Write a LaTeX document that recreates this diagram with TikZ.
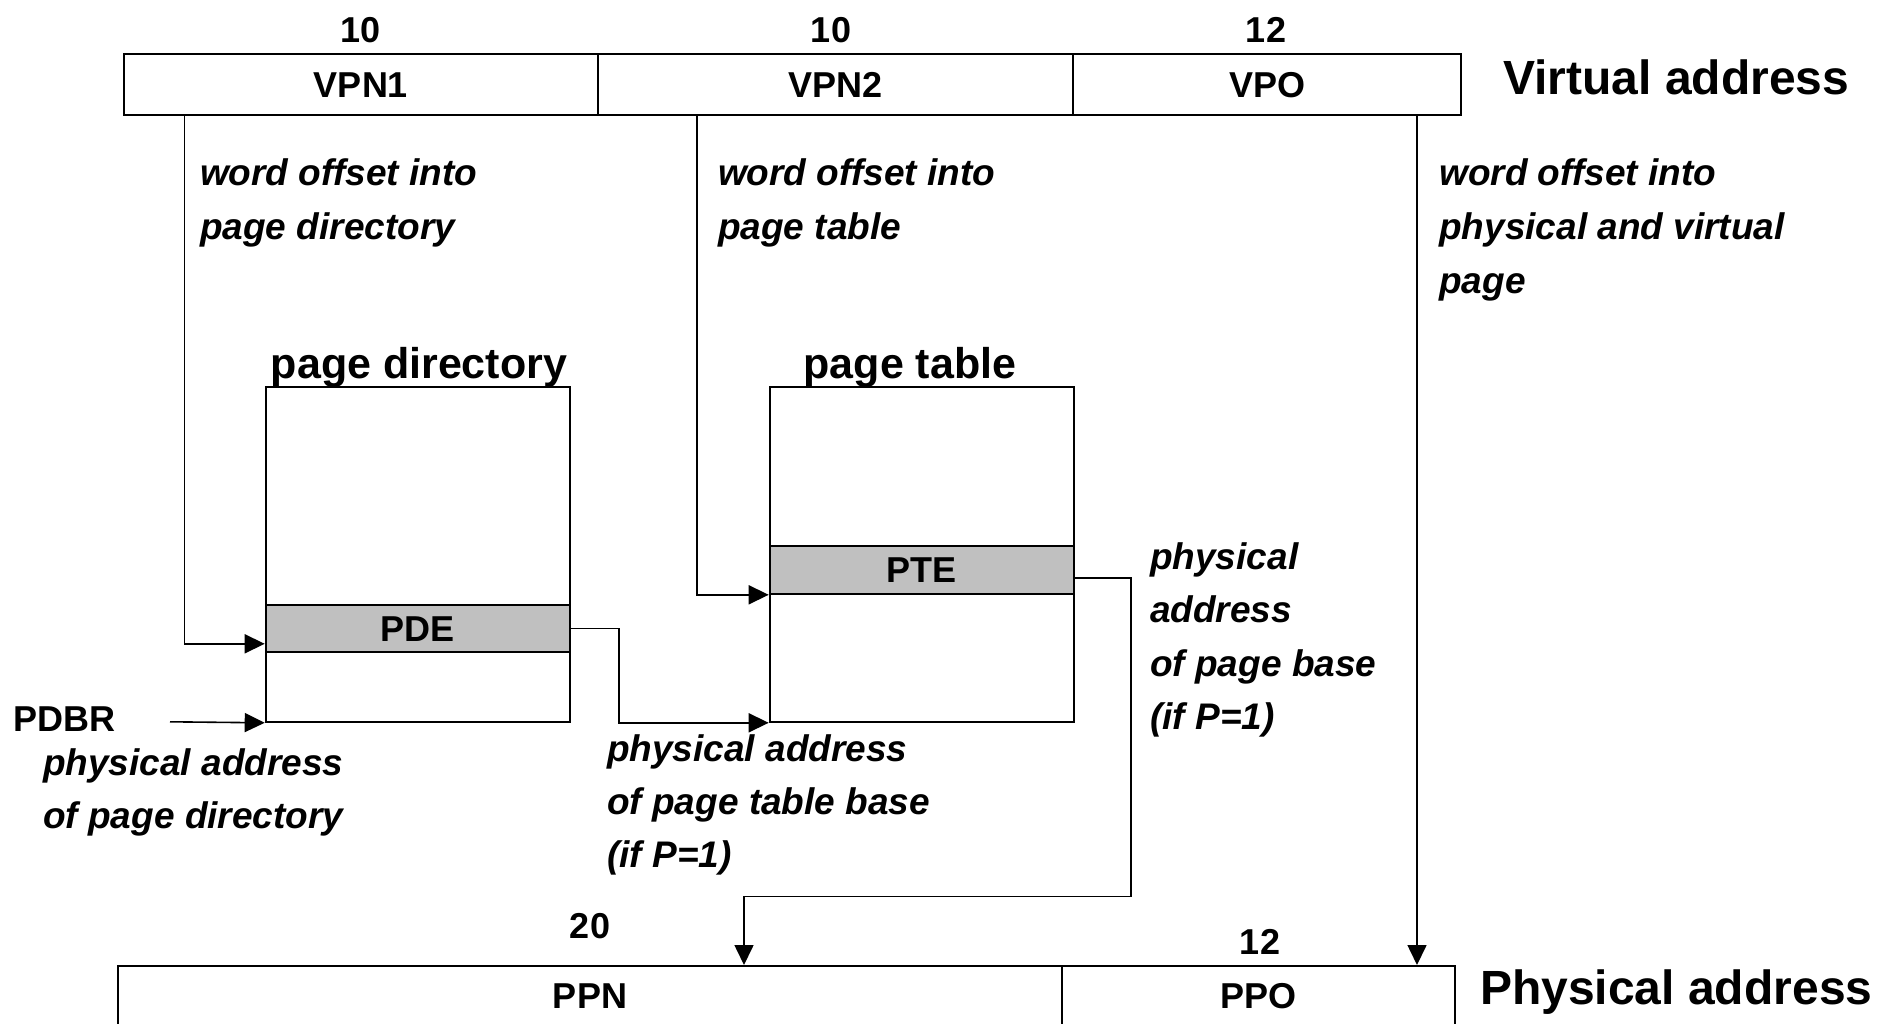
\documentclass[tikz,border=0pt]{standalone}
\usepackage{fontspec}
\setmainfont{Liberation Sans}
\usetikzlibrary{arrows.meta}
\definecolor{entrygray}{RGB}{192,192,192}
\begin{document}
\begin{tikzpicture}[x=1pt,y=-1pt,
  box/.style={draw, line width=2pt, inner sep=0pt, font=\bfseries\fontsize{36}{43}\selectfont, text height=26pt, text depth=0pt},
  entry/.style={box, fill=entrygray},
  lbl/.style={inner sep=0pt, anchor=base, font=\bfseries\fontsize{36}{43}\selectfont},
  note/.style={inner sep=0pt, anchor=base west, font=\bfseries\itshape\fontsize{37}{44}\selectfont},
  title/.style={inner sep=0pt, anchor=base, font=\bfseries\fontsize{43}{52}\selectfont},
  big/.style={inner sep=0pt, anchor=base west, font=\bfseries\fontsize{48}{58}\selectfont},
  conn/.style={line width=1.6pt, -{Triangle[length=20pt,width=19pt]}}
]
\fill[white] (0,0) rectangle (1877,1023);
\useasboundingbox (0,0) rectangle (1877,1023);

% virtual address
\node[box, minimum width=474pt, minimum height=61pt] (vpn1) at (361,84.5) {VPN1};
\node[box, minimum width=475pt, minimum height=61pt] (vpn2) at (835.5,84.5) {VPN2};
\node[box, minimum width=388pt, minimum height=61pt] (vpo) at (1267,84.5) {VPO};
\node[lbl] (n10a) at (361,42) {10};
\node[lbl] (n10b) at (831,42) {10};
\node[lbl] (n12a) at (1266,42) {12};
\node[big] (va) at (1503,94) {Virtual address};

% notes under virtual address
\node[note] (w1a) at (200,185) {word offset into};
\node[note] (w1b) at (200,239) {page directory};
\node[note] (w2a) at (718,185) {word offset into};
\node[note] (w2b) at (718,239) {page table};
\node[note] (w3a) at (1439,185) {word offset into};
\node[note] (w3b) at (1439,239) {physical and virtual};
\node[note] (w3c) at (1439,293) {page};

% page directory
\node[title] (pdt) at (419,378) {page directory};
\node[box, minimum width=304.1pt, minimum height=335.2pt] (pd) at (417.75,554.2) {};
\node[entry, minimum width=304.1pt, minimum height=47.9pt] (pde) at (417.75,628.45) {PDE};

% page table
\node[title] (ptt) at (910,378) {page table};
\node[box, minimum width=304.1pt, minimum height=335.2pt] (pt) at (921.75,554.2) {};
\node[entry, minimum width=304.1pt, minimum height=47.9pt] (pte) at (921.75,569.85) {PTE};

% PDBR
\node[lbl, anchor=base west] (pdbr) at (13,731) {PDBR};
\coordinate (pdbrstart) at (170,721.8);
\node[note] (p1a) at (43,775) {physical address};
\node[note] (p1b) at (43,828) {of page directory};

\node[note] (p2a) at (607,761) {physical address};
\node[note] (p2b) at (607,814) {of page table base};
\node[note] (p2c) at (607,867) {(if P=1)};

\node[note] (p3a) at (1150,569) {physical};
\node[note] (p3b) at (1150,622) {address};
\node[note] (p3c) at (1150,676) {of page base};
\node[note] (p3d) at (1150,729) {(if P=1)};

% physical address
\node[box, minimum width=944pt, minimum height=59pt] (ppn) at (590,995.5) {PPN};
\node[box, minimum width=393pt, minimum height=59pt] (ppo) at (1258.5,995.5) {PPO};
\node[lbl] (n20) at (590,938) {20};
\node[lbl] (n12b) at (1260,954) {12};
\node[big] (pa) at (1480,1004) {Physical address};
\coordinate (ppnin) at ([xshift=627pt]ppn.north west);

% connectors
\draw[conn] ([xshift=61.5pt]vpn1.south west) |- ([yshift=9.6pt]pde.south west);
\draw[conn] ([xshift=100pt]vpn2.south west) |- (pte.south west);
\draw[conn] ([xshift=345pt]vpo.south west) -- ([xshift=356pt]ppo.north west);
\draw[conn] (pdbrstart) -- (pd.south west);
\draw[conn] (pde.east) -- ++(48,0) |- (pt.south west);
\draw[conn] ([yshift=-8pt]pte.east) -- ++(56,0) |- ([yshift=68.4pt]ppnin) -- (ppnin);
\end{tikzpicture}
\end{document}
